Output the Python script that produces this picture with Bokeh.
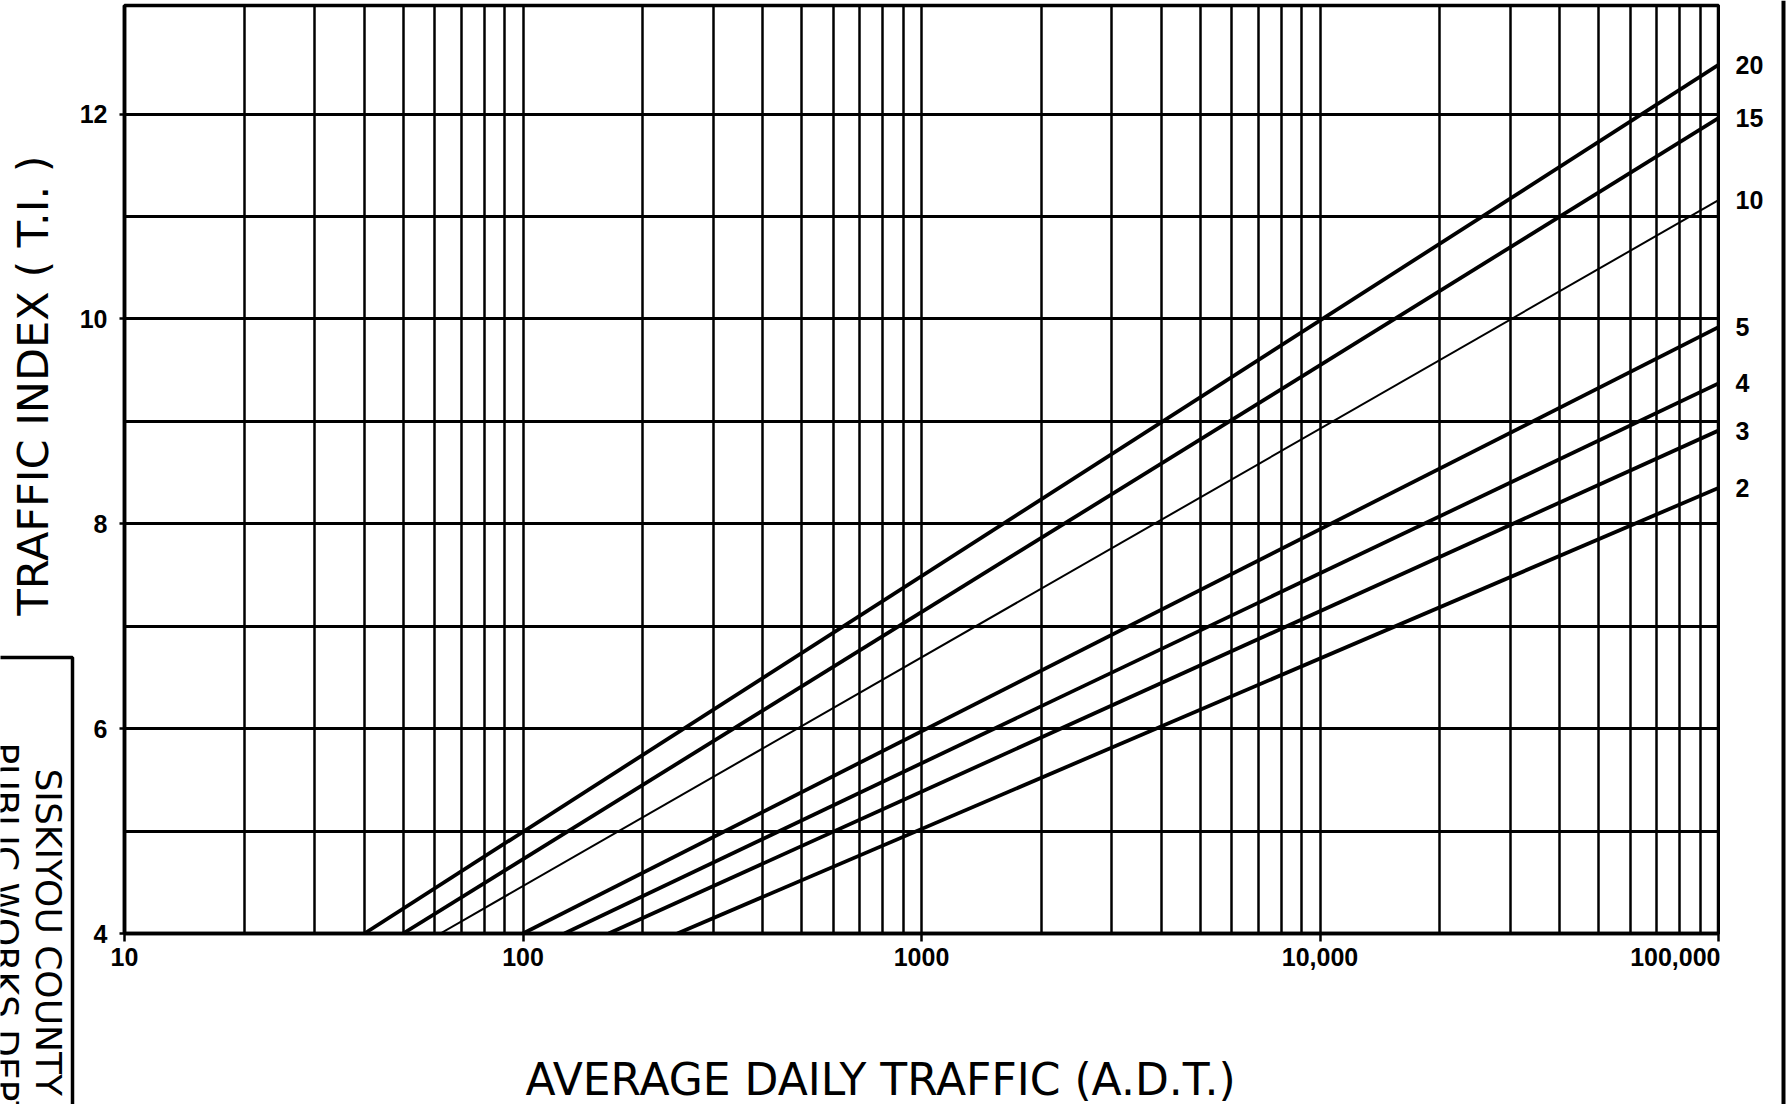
import math
from bokeh.plotting import figure
from bokeh.models import Range1d, FixedTicker, Span
from bokeh.layouts import row, column
from bokeh.embed import file_html
from bokeh.resources import INLINE
from bokeh.core.properties import value

# ---------------- data ----------------
design_periods = ["20", "15", "10", "5", "4", "3", "2"]          # curve labels (years)
adt_at_ti4 = [40, 50, 62, 100, 127, 164, 244]                     # ADT where each line meets T.I. = 4
ti_base = [4, 4, 4, 4, 4, 4, 4]
adt_right = [100000, 100000, 100000, 100000, 100000, 100000, 100000]
ti_at_100k = [12.48, 11.96, 11.16, 9.92, 9.37, 8.91, 8.35]        # T.I. at ADT = 100,000

x_tick_values = [10, 100, 1000, 10000, 100000]
x_tick_labels = ["10", "100", "1000", "10,000", "100,000"]
x_minor_multipliers = [2, 3, 4, 5, 6, 7, 8, 9]
y_tick_values = [4, 6, 8, 10, 12]
y_minor_values = [5, 7, 9, 11]

x_title = "AVERAGE DAILY TRAFFIC (A.D.T.)"
y_title = "TRAFFIC INDEX ( T.I. )"
stamp_lines = ["SISKIYOU COUNTY", "PUBLIC WORKS DEPT"]

# ---------------- layout constants (pixels) ----------------
H = 1104
SIDE_W, MAIN_W, RIGHT_W = 76, 1644, 70
MAIN_H, BOTTOM_H = 1010, 94
MB_LEFT, MB_RIGHT, MB_TOP, MB_BOTTOM = 46, 2, 5, 77
Y_START, Y_END = 4, 13.06
TITLE_FONT = "DejaVu Sans"
NUM_FONT = "Liberation Sans"


def bare(fig):
    fig.grid.visible = False
    fig.outline_line_color = None
    fig.background_fill_color = "white"
    fig.border_fill_color = "white"
    return fig


# ---------------- main chart ----------------
p = figure(width=MAIN_W, height=MAIN_H, x_axis_type="log",
           x_range=Range1d(10, 100000), y_range=Range1d(Y_START, Y_END),
           output_backend="svg", toolbar_location=None, frame_align=False,
           min_border_left=MB_LEFT, min_border_right=MB_RIGHT,
           min_border_top=MB_TOP, min_border_bottom=MB_BOTTOM)
p.background_fill_color = "white"
p.border_fill_color = "white"
p.outline_line_color = "black"
p.outline_line_width = 3.5

x_minor = [m * d for d in x_tick_values[:-1] for m in x_minor_multipliers]
xt = FixedTicker(ticks=x_tick_values, minor_ticks=x_minor)
yt = FixedTicker(ticks=y_tick_values, minor_ticks=y_minor_values)
p.xaxis.ticker = xt
p.yaxis.ticker = yt
p.xgrid.ticker = xt
p.ygrid.ticker = yt
p.xaxis.major_label_overrides = {v: s for v, s in zip(x_tick_values, x_tick_labels)}

for g in (p.xgrid, p.ygrid):
    g.grid_line_color = "black"
    g.grid_line_alpha = 1.0
    g.minor_grid_line_color = "black"
    g.minor_grid_line_alpha = 1.0
p.xgrid.grid_line_width = 2.5
p.xgrid.minor_grid_line_width = 2.5
p.ygrid.grid_line_width = 3
p.ygrid.minor_grid_line_width = 3

for ax in (p.xaxis, p.yaxis):
    ax.axis_line_color = "black"
    ax.axis_line_width = 3.5
    ax.major_tick_line_color = "black"
    ax.major_tick_line_width = 2.5
    ax.major_tick_in = 0
    ax.minor_tick_in = 0
    ax.minor_tick_out = 0
    ax.major_label_text_font = NUM_FONT
    ax.major_label_text_font_style = "bold"
    ax.major_label_text_font_size = "25px"
    ax.major_label_text_color = "black"
p.xaxis.major_tick_out = 8
p.xaxis.major_label_standoff = 6
p.yaxis.major_tick_out = 5
p.yaxis.major_label_standoff = 12

for i, name in enumerate(design_periods):
    p.line([adt_at_ti4[i], adt_right[i]], [ti_base[i], ti_at_100k[i]],
           line_color="black", line_width=2.0 if name == "10" else 3.8)

# ---------------- strip under the chart: x-axis title ----------------
b = bare(figure(width=MAIN_W, height=BOTTOM_H, x_range=Range1d(0, MAIN_W),
                y_range=Range1d(0, BOTTOM_H), output_backend="svg",
                toolbar_location=None, min_border=0, frame_align=False,
                x_axis_location=None, y_axis_location=None))
b.text(x=[804], y=[25], text=[x_title], text_align="center", text_baseline="middle",
       text_font=value(TITLE_FONT), text_font_size="44px", text_color="black")

# ---------------- right strip: curve labels + sheet edge ----------------
upp = (Y_END - Y_START) / (MAIN_H - MB_TOP - MB_BOTTOM)
r = bare(figure(width=RIGHT_W, height=H, x_range=Range1d(0, RIGHT_W),
                y_range=Range1d(Y_START - (H - MAIN_H + MB_BOTTOM) * upp, Y_END + MB_TOP * upp),
                output_backend="svg", toolbar_location=None, min_border=0,
                frame_align=False, x_axis_location=None, y_axis_location=None))
r.text(x=[15] * len(design_periods), y=ti_at_100k, text=design_periods,
       text_align="left", text_baseline="middle",
       text_font=value(NUM_FONT), text_font_style="bold",
       text_font_size="25px", text_color="black")
r.add_layout(Span(location=63, dimension="height", line_color="black", line_width=4))

# ---------------- left strip: y-axis title + stamp box ----------------
s = bare(figure(width=SIDE_W, height=H, x_range=Range1d(0, SIDE_W), y_range=Range1d(0, H),
                output_backend="svg", toolbar_location=None, min_border=0,
                frame_align=False, x_axis_location=None, y_axis_location=None))
s.text(x=[32], y=[719], text=[y_title], angle=math.pi / 2,
       text_align="center", text_baseline="middle",
       text_font=value(TITLE_FONT), text_font_size="43px", text_color="black")
s.line([-5, 72, 72], [447, 447, -5], line_color="black", line_width=3.5)
s.text(x=[48, 5], y=[336, 362], text=stamp_lines, angle=-math.pi / 2,
       text_align="left", text_baseline="middle",
       text_font=value(TITLE_FONT), text_font_size="36px", text_color="black")

layout = row(s, column(p, b), r)
open("out.html", "w").write(file_html(layout, INLINE))
